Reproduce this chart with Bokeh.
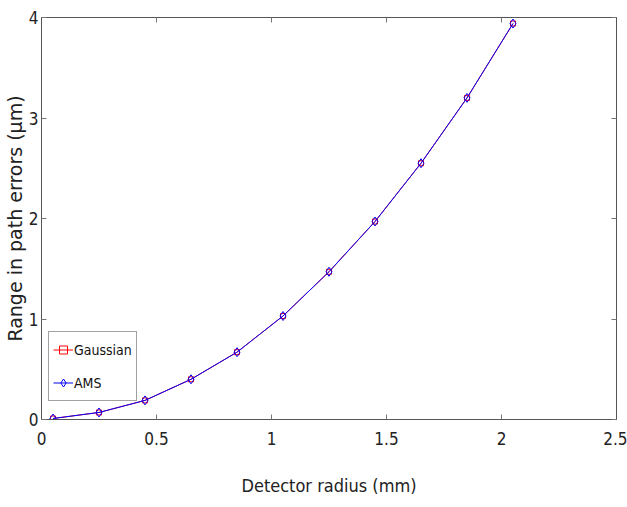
from bokeh.plotting import figure
from bokeh.models import Range1d, LinearAxis, FixedTicker, Legend, LegendItem
from bokeh.embed import file_html
from bokeh.resources import INLINE

radius_mm = [0.05, 0.25, 0.45, 0.65, 0.85, 1.05, 1.25, 1.45, 1.65, 1.85, 2.05]
gaussian = [0.01, 0.07, 0.19, 0.40, 0.67, 1.03, 1.47, 1.97, 2.55, 3.20, 3.94]
ams = [0.01, 0.07, 0.19, 0.40, 0.67, 1.03, 1.47, 1.97, 2.55, 3.20, 3.94]
x_ticks = [0, 0.5, 1, 1.5, 2, 2.5]
x_tick_labels = ["0", "0.5", "1", "1.5", "2", "2.5"]
y_ticks = [0, 1, 2, 3, 4]
y_tick_labels = ["0", "1", "2", "3", "4"]

NARROW = "DejaVu Sans Condensed"

p = figure(width=627, height=507, output_backend="svg", toolbar_location=None,
           x_range=Range1d(0, 2.5), y_range=Range1d(0, 4),
           min_border_left=41, min_border_right=11, min_border_top=17, min_border_bottom=88)
p.grid.visible = False
p.outline_line_color = "#444444"
p.background_fill_color = "white"
p.border_fill_color = "white"

for ax, ticks, labels in [(p.xaxis[0], x_ticks, x_tick_labels), (p.yaxis[0], y_ticks, y_tick_labels)]:
    ax.ticker = FixedTicker(ticks=ticks)
    ax.major_label_overrides = {t: l for t, l in zip(ticks, labels)}
    ax.major_tick_in = 5
    ax.major_tick_out = 0
    ax.minor_tick_line_color = None
    ax.major_label_text_font = NARROW
    ax.major_label_text_font_size = "17px"
    ax.major_label_text_color = "#222222"
    ax.axis_line_color = "#555555"
    ax.major_tick_line_color = "#777777"

p.xaxis[0].axis_label = "Detector radius (mm)"
p.xaxis[0].axis_label_text_font = NARROW
p.xaxis[0].axis_label_text_font_size = "18px"
p.xaxis[0].axis_label_text_font_style = "normal"
p.xaxis[0].axis_label_text_color = "#222222"
p.xaxis[0].major_label_standoff = 12
p.xaxis[0].axis_label_standoff = 27

p.yaxis[0].axis_label = "Range in path errors (μm)"
p.yaxis[0].axis_label_text_font = "DejaVu Sans"
p.yaxis[0].axis_label_text_font_size = "19px"
p.yaxis[0].axis_label_text_font_style = "normal"
p.yaxis[0].axis_label_text_color = "#222222"
p.yaxis[0].major_label_standoff = 3
p.yaxis[0].axis_label_standoff = 0

for loc, ticks in [("right", y_ticks), ("above", x_ticks)]:
    ax = LinearAxis(ticker=FixedTicker(ticks=ticks), major_tick_in=5, major_tick_out=0,
                    minor_tick_line_color=None,
                    major_label_overrides={t: "" for t in ticks},
                    major_label_standoff=0, axis_line_color="#555555",
                    major_tick_line_color="#777777")
    p.add_layout(ax, loc)

gl = p.line(radius_mm, gaussian, line_color="red", line_width=1)
gs = p.scatter(radius_mm, gaussian, marker="square", size=5, fill_color=None, line_color="red")
al = p.line(radius_mm, ams, line_color="blue", line_width=1)
as_ = p.scatter(radius_mm, ams, marker="diamond", size=9, fill_color=None, line_color="blue")

legend = Legend(items=[LegendItem(label="Gaussian", renderers=[gl, gs]),
                       LegendItem(label="AMS", renderers=[al, as_])],
                location=(7, 18), margin=0, padding=4, spacing=6,
                glyph_width=20, glyph_height=27, label_standoff=1,
                label_text_font=NARROW, label_text_font_size="14px",
                label_text_color="#111111",
                border_line_color="#444444", background_fill_alpha=1.0)
p.add_layout(legend, "center")

open("out.html", "w").write(file_html(p, INLINE))
